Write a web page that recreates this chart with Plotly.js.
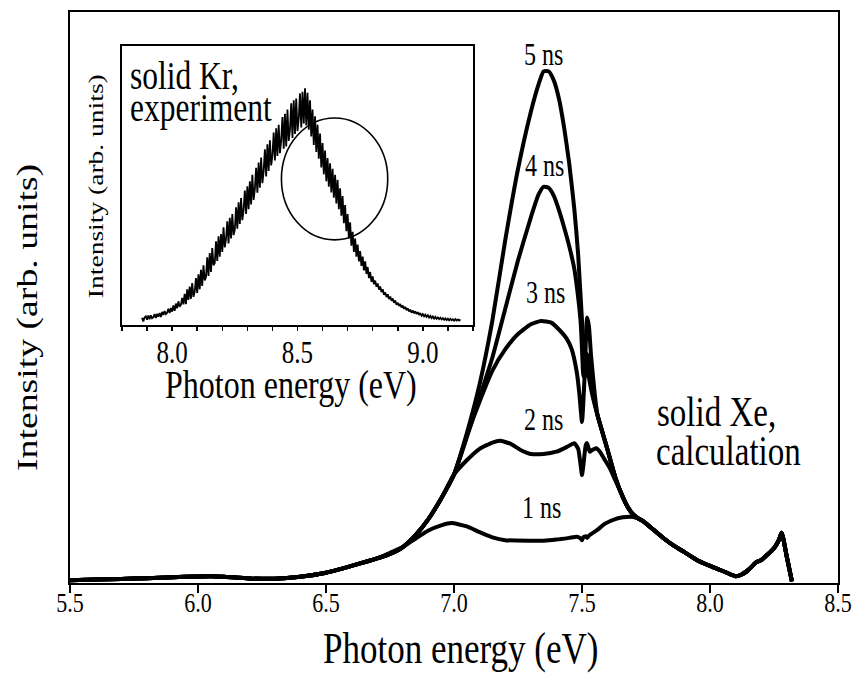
<!DOCTYPE html>
<html>
<head>
<meta charset="utf-8">
<script src="https://cdn.plot.ly/plotly-3.0.1.min.js"></script>
<style>
  html, body { margin: 0; padding: 0; background: #ffffff; }
  #chart { width: 853px; height: 682px; }
</style>
</head>
<body>
<div id="chart"></div>
<script>
// ---- Solid Xe, calculated spectra at 1-5 ns (arb. units) ----
// low-energy part shared by all delays
const leftE = [5.50, 5.60, 5.70, 5.80, 5.90, 6.00, 6.05, 6.10, 6.20, 6.30, 6.40, 6.50, 6.60, 6.70];
const leftI = [0.5, 0.6, 0.7, 0.85, 1.0, 1.15, 1.2, 1.1, 0.8, 0.75, 1.1, 1.8, 3.0, 4.3];

// common rising edge of the 2-5 ns spectra
const riseE = [6.75, 6.80, 6.85, 6.90, 6.95, 7.00];
const riseI = [5.1, 6.3, 8.4, 11.2, 14.8, 19.0];

// common falling edge above the 7.5 eV feature
const fallE = [7.56, 7.60, 7.63, 7.66, 7.68, 7.70];
const fallI = [29.5, 23.3, 18.5, 15.0, 13.2, 12.0];

// high-energy tail shared by all delays
const tailE = [7.72, 7.74, 7.78, 7.82, 7.86, 7.90, 7.95, 8.00, 8.05, 8.08, 8.10, 8.12, 8.15, 8.18, 8.20, 8.22, 8.25, 8.27, 8.28, 8.30, 8.32];
const tailI = [11.3, 10.8, 9.3, 7.8, 6.5, 5.4, 4.0, 3.0, 2.1, 1.5, 1.2, 1.4, 2.3, 3.6, 4.0, 4.8, 6.1, 7.6, 8.8, 4.6, 0.3];

// delay-specific central parts
const mid5E = [7.05, 7.10, 7.15, 7.20, 7.25, 7.30, 7.33, 7.35, 7.37, 7.39, 7.41, 7.43, 7.45, 7.47, 7.485, 7.50, 7.51, 7.52, 7.535];
const mid5I = [26.2, 34.8, 46.0, 60.0, 72.5, 82.5, 87.3, 89.6, 89.6, 88.0, 84.8, 79.8, 73.5, 65.5, 57.5, 46.0, 40.5, 40.0, 35.0];

const mid4E = [7.05, 7.10, 7.15, 7.20, 7.25, 7.30, 7.33, 7.35, 7.37, 7.39, 7.41, 7.43, 7.45, 7.47, 7.485, 7.495, 7.50, 7.505, 7.51, 7.518, 7.527, 7.54];
const mid4I = [25.5, 32.5, 39.5, 48.0, 56.5, 64.0, 68.0, 69.4, 69.2, 67.8, 65.3, 62.3, 59.0, 55.0, 50.0, 45.5, 41.0, 36.5, 36.0, 38.5, 36.0, 33.0];

const mid3E = [7.05, 7.10, 7.15, 7.20, 7.25, 7.30, 7.34, 7.38, 7.41, 7.44, 7.46, 7.48, 7.49, 7.50, 7.51, 7.52, 7.527, 7.535, 7.55];
const mid3I = [25.8, 31.8, 37.2, 40.9, 43.6, 45.3, 45.9, 45.6, 44.4, 42.8, 40.9, 36.8, 33.0, 28.2, 36.0, 46.5, 45.0, 40.0, 33.0];

const mid2E = [7.05, 7.10, 7.15, 7.18, 7.22, 7.26, 7.30, 7.35, 7.40, 7.44, 7.47, 7.485, 7.495, 7.50, 7.505, 7.515, 7.52, 7.53, 7.54, 7.555, 7.57, 7.59, 7.61, 7.63];
const mid2I = [21.5, 23.5, 24.6, 24.9, 24.4, 23.3, 22.6, 22.6, 23.0, 23.8, 24.5, 23.5, 20.5, 18.9, 20.5, 24.2, 24.5, 23.0, 23.3, 23.6, 23.0, 21.5, 20.0, 18.0];

const mid1E = [6.75, 6.80, 6.85, 6.90, 6.95, 6.99, 7.05, 7.10, 7.15, 7.20, 7.30, 7.35, 7.40, 7.45, 7.48, 7.495, 7.50, 7.505, 7.515, 7.52, 7.53, 7.56, 7.59, 7.63, 7.66, 7.69];
const mid1I = [5.3, 6.3, 7.8, 9.2, 10.1, 10.5, 9.9, 8.9, 8.0, 7.5, 7.4, 7.4, 7.6, 7.9, 8.1, 7.8, 7.5, 8.0, 8.2, 7.9, 8.4, 9.3, 10.4, 11.2, 11.5, 11.6];

const delayLabels = ['1 ns', '2 ns', '3 ns', '4 ns', '5 ns'];

// ---- Solid Kr, measured spectrum (inset), 5 meV steps ----
const krE = [
  7.880, 7.885, 7.890, 7.895, 7.900, 7.905, 7.910, 7.915, 7.920, 7.925,
  7.930, 7.935, 7.940, 7.945, 7.950, 7.955, 7.960, 7.965, 7.970, 7.975,
  7.980, 7.985, 7.990, 7.995, 8.000, 8.005, 8.010, 8.015, 8.020, 8.025,
  8.030, 8.035, 8.040, 8.045, 8.050, 8.055, 8.060, 8.065, 8.070, 8.075,
  8.080, 8.085, 8.090, 8.095, 8.100, 8.105, 8.110, 8.115, 8.120, 8.125,
  8.130, 8.135, 8.140, 8.145, 8.150, 8.155, 8.160, 8.165, 8.170, 8.175,
  8.180, 8.185, 8.190, 8.195, 8.200, 8.205, 8.210, 8.215, 8.220, 8.225,
  8.230, 8.235, 8.240, 8.245, 8.250, 8.255, 8.260, 8.265, 8.270, 8.275,
  8.280, 8.285, 8.290, 8.295, 8.300, 8.305, 8.310, 8.315, 8.320, 8.325,
  8.330, 8.335, 8.340, 8.345, 8.350, 8.355, 8.360, 8.365, 8.370, 8.375,
  8.380, 8.385, 8.390, 8.395, 8.400, 8.405, 8.410, 8.415, 8.420, 8.425,
  8.430, 8.435, 8.440, 8.445, 8.450, 8.455, 8.460, 8.465, 8.470, 8.475,
  8.480, 8.485, 8.490, 8.495, 8.500, 8.505, 8.510, 8.515, 8.520, 8.525,
  8.530, 8.535, 8.540, 8.545, 8.550, 8.555, 8.560, 8.565, 8.570, 8.575,
  8.580, 8.585, 8.590, 8.595, 8.600, 8.605, 8.610, 8.615, 8.620, 8.625,
  8.630, 8.635, 8.640, 8.645, 8.650, 8.655, 8.660, 8.665, 8.670, 8.675,
  8.680, 8.685, 8.690, 8.695, 8.700, 8.705, 8.710, 8.715, 8.720, 8.725,
  8.730, 8.735, 8.740, 8.745, 8.750, 8.755, 8.760, 8.765, 8.770, 8.775,
  8.780, 8.785, 8.790, 8.795, 8.800, 8.805, 8.810, 8.815, 8.820, 8.825,
  8.830, 8.835, 8.840, 8.845, 8.850, 8.855, 8.860, 8.865, 8.870, 8.875,
  8.880, 8.885, 8.890, 8.895, 8.900, 8.905, 8.910, 8.915, 8.920, 8.925,
  8.930, 8.935, 8.940, 8.945, 8.950, 8.955, 8.960, 8.965, 8.970, 8.975,
  8.980, 8.985, 8.990, 8.995, 9.000, 9.005, 9.010, 9.015, 9.020, 9.025,
  9.030, 9.035, 9.040, 9.045, 9.050, 9.055, 9.060, 9.065, 9.070, 9.075,
  9.080, 9.085, 9.090, 9.095, 9.100, 9.105, 9.110, 9.115, 9.120, 9.125,
  9.130, 9.135, 9.140, 9.145, 9.150];
const krI = [
  0.026, 0.013, 0.027, 0.031, 0.019, 0.034, 0.021, 0.035, 0.024, 0.028,
  0.039, 0.025, 0.040, 0.030, 0.043, 0.029, 0.047, 0.036, 0.050, 0.039,
  0.044, 0.058, 0.043, 0.061, 0.048, 0.070, 0.051, 0.077, 0.060, 0.085,
  0.066, 0.072, 0.097, 0.074, 0.112, 0.075, 0.128, 0.090, 0.138, 0.094,
  0.150, 0.101, 0.118, 0.168, 0.115, 0.182, 0.128, 0.198, 0.140, 0.214,
  0.160, 0.172, 0.243, 0.176, 0.258, 0.190, 0.276, 0.214, 0.222, 0.300,
  0.230, 0.318, 0.245, 0.326, 0.262, 0.350, 0.278, 0.309, 0.372, 0.292,
  0.384, 0.310, 0.398, 0.322, 0.342, 0.422, 0.345, 0.440, 0.362, 0.455,
  0.376, 0.412, 0.482, 0.398, 0.497, 0.415, 0.515, 0.432, 0.538, 0.448,
  0.488, 0.563, 0.474, 0.582, 0.492, 0.600, 0.508, 0.550, 0.630, 0.532,
  0.648, 0.552, 0.662, 0.572, 0.605, 0.690, 0.590, 0.705, 0.606, 0.718,
  0.616, 0.662, 0.745, 0.632, 0.757, 0.640, 0.772, 0.660, 0.700, 0.795,
  0.670, 0.805, 0.685, 0.812, 0.695, 0.740, 0.830, 0.708, 0.836, 0.722,
  0.848, 0.715, 0.832, 0.700, 0.805, 0.676, 0.772, 0.645, 0.748, 0.620,
  0.718, 0.596, 0.686, 0.565, 0.652, 0.540, 0.625, 0.515, 0.598, 0.496,
  0.580, 0.475, 0.560, 0.456, 0.538, 0.436, 0.520, 0.415, 0.490, 0.392,
  0.462, 0.365, 0.430, 0.336, 0.398, 0.310, 0.368, 0.284, 0.334, 0.262,
  0.310, 0.245, 0.288, 0.228, 0.265, 0.212, 0.245, 0.196, 0.228, 0.183,
  0.208, 0.168, 0.190, 0.155, 0.174, 0.146, 0.159, 0.137, 0.149, 0.127,
  0.138, 0.118, 0.128, 0.108, 0.117, 0.100, 0.110, 0.093, 0.102, 0.087,
  0.095, 0.080, 0.088, 0.073, 0.080, 0.068, 0.075, 0.063, 0.070, 0.058,
  0.065, 0.053, 0.060, 0.049, 0.055, 0.044, 0.052, 0.042, 0.049, 0.039,
  0.046, 0.036, 0.043, 0.033, 0.039, 0.031, 0.037, 0.029, 0.035, 0.027,
  0.033, 0.025, 0.031, 0.023, 0.029, 0.022, 0.027, 0.021, 0.026, 0.020,
  0.025, 0.019, 0.024, 0.018, 0.023, 0.017, 0.022, 0.017, 0.021, 0.016,
  0.021, 0.016, 0.020, 0.016, 0.020];

// marked shoulder of the Kr band
const shoulderBox = {e0: 8.436, e1: 8.86, i0: 0.305, i1: 0.742};

// ---- assemble the calculated curves ----
const fall2From = 3; // 2 ns joins the common falling edge at 7.66 eV
const curves = [
  {name: '1 ns', e: [].concat(leftE, mid1E, tailE), i: [].concat(leftI, mid1I, tailI)},
  {name: '2 ns', e: [].concat(leftE, riseE, mid2E, fallE.slice(fall2From), tailE),
                 i: [].concat(leftI, riseI, mid2I, fallI.slice(fall2From), tailI)},
  {name: '3 ns', e: [].concat(leftE, riseE, mid3E, fallE, tailE), i: [].concat(leftI, riseI, mid3I, fallI, tailI)},
  {name: '4 ns', e: [].concat(leftE, riseE, mid4E, fallE, tailE), i: [].concat(leftI, riseI, mid4I, fallI, tailI)},
  {name: '5 ns', e: [].concat(leftE, riseE, mid5E, fallE, tailE), i: [].concat(leftI, riseI, mid5I, fallI, tailI)}
];

const serif = 'Liberation Serif, Times New Roman, serif';

const traces = curves.map(c => ({
  type: 'scatter', mode: 'lines', x: c.e, y: c.i, name: c.name,
  xaxis: 'x', yaxis: 'y', hoverinfo: 'skip',
  line: {color: '#000000', width: 4, shape: 'spline', smoothing: 0.5}
}));

traces.push({
  type: 'scatter', mode: 'lines', x: krE, y: krI, name: 'solid Kr',
  xaxis: 'x2', yaxis: 'y2', hoverinfo: 'skip',
  line: {color: '#000000', width: 1.8}
});

// label anchors in data units of the main axes
const labelE = [7.34, 7.348, 7.359, 7.352, 7.348];
const labelI = [13.1, 28.5, 50.8, 73.0, 92.5];

const annotations = delayLabels.map((t, k) => ({
  text: t, x: labelE[k], y: labelI[k], xref: 'x', yref: 'y',
  showarrow: false, xanchor: 'center', yanchor: 'middle',
  font: {family: serif, size: 24, color: '#000'}
}));

annotations.push(
  {text: 'solid Xe,', x: 7.786, y: 30.0, xref: 'x', yref: 'y', showarrow: false,
   xanchor: 'left', yanchor: 'middle', font: {family: serif, size: 33, color: '#000'}},
  {text: 'calculation', x: 7.782, y: 23.1, xref: 'x', yref: 'y', showarrow: false,
   xanchor: 'left', yanchor: 'middle', font: {family: serif, size: 33, color: '#000'}},
  {text: 'solid Kr,', x: 0.0755, y: 0.888, xref: 'paper', yref: 'paper', showarrow: false,
   xanchor: 'left', yanchor: 'middle', font: {family: serif, size: 31.5, color: '#000'}},
  {text: 'experiment', x: 0.0755, y: 0.8326, xref: 'paper', yref: 'paper', showarrow: false,
   xanchor: 'left', yanchor: 'middle', font: {family: serif, size: 31.5, color: '#000'}},
  {text: 'Photon energy (eV)', x: 0.2878, y: 0.3485, xref: 'paper', yref: 'paper', showarrow: false,
   xanchor: 'center', yanchor: 'middle', font: {family: serif, size: 32, color: '#000'}},
  {text: 'Intensity (arb. units)', x: 0.0345, y: 0.695, xref: 'paper', yref: 'paper', showarrow: false,
   textangle: -90, xanchor: 'center', yanchor: 'middle', font: {family: serif, size: 21.5, color: '#000'}},
  {text: 'Photon energy (eV)', x: 0.508, y: -0.114, xref: 'paper', yref: 'paper', showarrow: false,
   xanchor: 'center', yanchor: 'middle', font: {family: serif, size: 35, color: '#000'}},
  {text: 'Intensity (arb. units)', x: -0.056, y: 0.465, xref: 'paper', yref: 'paper', showarrow: false,
   textangle: -90, xanchor: 'center', yanchor: 'middle', font: {family: serif, size: 29.5, color: '#000'}}
);

const layout = {
  width: 853, height: 682,
  margin: {l: 70, r: 15, t: 12, b: 99, pad: 0},
  paper_bgcolor: '#ffffff', plot_bgcolor: '#ffffff',
  showlegend: false,
  font: {family: serif, color: '#000'},
  xaxis: {
    range: [5.5, 8.5], tick0: 5.5, dtick: 0.5, tickformat: '.1f',
    ticks: 'outside', ticklen: 8, tickwidth: 2, tickcolor: '#000',
    showline: true, linecolor: '#000', linewidth: 2, mirror: true,
    showgrid: false, zeroline: false,
    tickfont: {family: serif, size: 22, color: '#000'}
  },
  yaxis: {
    range: [0, 100], showticklabels: false, ticks: '',
    showline: true, linecolor: '#000', linewidth: 2, mirror: true,
    showgrid: false, zeroline: false
  },
  xaxis2: {
    anchor: 'y2', domain: [0.0677, 0.5247],
    range: [7.8, 9.2], tick0: 8.0, dtick: 0.5, tickformat: '.1f',
    ticks: 'outside', ticklen: 4, tickwidth: 1.5, tickcolor: '#000',
    minor: {dtick: 0.1, ticks: 'outside', ticklen: 4, tickwidth: 1.5, tickcolor: '#000', showgrid: false},
    showline: true, linecolor: '#000', linewidth: 2, mirror: true,
    showgrid: false, zeroline: false,
    tickfont: {family: serif, size: 25, color: '#000'}
  },
  yaxis2: {
    anchor: 'x2', domain: [0.4518, 0.9405],
    range: [0, 1], showticklabels: false, ticks: '',
    showline: true, linecolor: '#000', linewidth: 2, mirror: true,
    showgrid: false, zeroline: false
  },
  shapes: [{
    type: 'circle', xref: 'x2', yref: 'y2',
    x0: shoulderBox.e0, x1: shoulderBox.e1, y0: shoulderBox.i0, y1: shoulderBox.i1,
    line: {color: '#000', width: 1.6}
  }],
  annotations: annotations
};

// The typeface of this figure is drawn with tall, narrow glyphs:
// stretch every label along its glyph height about its own centre.
const GLYPH_STRETCH = 1.28;
function stretch(el, alongX, dy) {
  const cur = el.getAttribute('transform') || '';
  if (el.dataset.stretched && cur === el.dataset.stretched) return;   // already done
  const bb = el.getBBox();
  const cx = bb.x + bb.width / 2, cy = bb.y + bb.height / 2;
  const move = dy ? ` translate(0 ${dy})` : '';
  const s = alongX
    ? `translate(${cx} 0) scale(${GLYPH_STRETCH} 1) translate(${-cx} 0)`
    : `translate(0 ${cy}) scale(1 ${GLYPH_STRETCH}) translate(0 ${-cy})`;
  const next = (cur + move + ' ' + s).trim();
  el.setAttribute('transform', next);
  el.dataset.stretched = next;
}

function styleLabels() {
  gd.querySelectorAll('g.xtick > text').forEach(t => stretch(t, false, -9));
  gd.querySelectorAll('g.x2tick > text').forEach(t => stretch(t, false, 0));
  gd.querySelectorAll('g.annotation').forEach(g => {
    const idx = +g.getAttribute('data-index');
    const t = g.querySelector('text.annotation-text');
    if (!t) return;
    stretch(t, !!layout.annotations[idx].textangle, 0);
  });
}

const gd = document.getElementById('chart');
Plotly.newPlot(gd, traces, layout, {staticPlot: true, displayModeBar: false}).then(() => {
  styleLabels();
  gd.on('plotly_afterplot', styleLabels);
  requestAnimationFrame(styleLabels);
  setTimeout(styleLabels, 50);
  setTimeout(styleLabels, 250);
});
</script>
</body>
</html>
